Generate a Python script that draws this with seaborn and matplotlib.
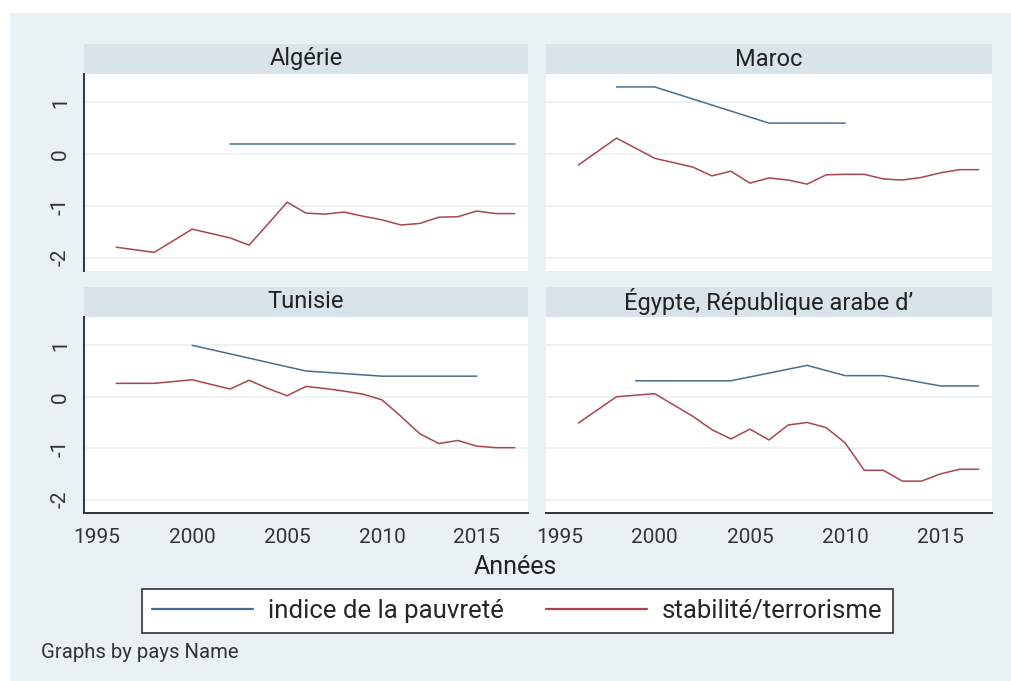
import numpy as np
import pandas as pd
import matplotlib
matplotlib.use("Agg")
import matplotlib.pyplot as plt
from matplotlib.patches import Rectangle
import seaborn as sns

sns.set_style("white")
plt.rcParams['font.family'] = ['Roboto', 'DejaVu Sans']
plt.rcParams['axes.unicode_minus'] = False

nan = np.nan
years = list(range(1996, 2018))
countries = ['Algérie', 'Maroc', 'Tunisie', 'Égypte, République arabe d’']
series_names = ['indice de la pauvreté', 'stabilité/terrorisme']

# indice de la pauvreté (1996..2017)
pauv_algerie = [nan, nan, nan, nan, nan, nan, 0.2, nan, nan, nan, nan, nan, nan, nan, nan, 0.2, nan, nan, nan, nan, nan, 0.2]
pauv_maroc = [nan, nan, 1.3, nan, 1.3, nan, nan, nan, nan, nan, 0.6, nan, nan, nan, 0.6, nan, nan, nan, nan, nan, nan, nan]
pauv_tunisie = [nan, nan, nan, nan, 1.0, nan, nan, nan, nan, nan, 0.5, nan, nan, nan, 0.4, nan, nan, nan, nan, 0.4, nan, nan]
pauv_egypte = [nan, nan, nan, 0.31, nan, nan, nan, nan, 0.31, nan, nan, nan, 0.61, nan, 0.41, nan, 0.41, nan, nan, 0.21, nan, 0.21]

# stabilité politique / absence de terrorisme (1996..2017)
stab_algerie = [-1.80, nan, -1.90, nan, -1.45, nan, -1.62, -1.76, -1.35, -0.93, -1.14, -1.16, -1.12, -1.20, -1.27, -1.37, -1.34, -1.22, -1.21, -1.10, -1.15, -1.15]
stab_maroc = [-0.21, nan, 0.31, nan, -0.08, nan, -0.25, -0.42, -0.33, -0.56, -0.46, -0.50, -0.58, -0.40, -0.39, -0.39, -0.48, -0.50, -0.45, -0.36, -0.30, -0.30]
stab_tunisie = [0.26, nan, 0.26, nan, 0.33, nan, 0.15, 0.32, 0.16, 0.02, 0.20, 0.16, 0.11, 0.05, -0.06, -0.38, -0.72, -0.91, -0.85, -0.96, -0.99, -0.99]
stab_egypte = [-0.51, nan, 0.00, nan, 0.06, nan, -0.38, -0.64, -0.82, -0.63, -0.84, -0.55, -0.50, -0.60, -0.90, -1.43, -1.43, -1.64, -1.64, -1.50, -1.41, -1.41]

pauv = [pauv_algerie, pauv_maroc, pauv_tunisie, pauv_egypte]
stab = [stab_algerie, stab_maroc, stab_tunisie, stab_egypte]

rows = []
for c, p, s in zip(countries, pauv, stab):
    for y, vp, vs in zip(years, p, s):
        rows.append((c, y, series_names[0], vp))
        rows.append((c, y, series_names[1], vs))
df = pd.DataFrame(rows, columns=['pays', 'annee', 'serie', 'valeur']).dropna()

BG = '#E9F1F4'
STRIP = '#D8E4EA'
palette = {series_names[0]: '#4A6C8F', series_names[1]: '#A8454F'}

W, H = 1011, 681
fig = plt.figure(figsize=(W / 100, H / 100), dpi=100, facecolor='white')
fig.patches.append(Rectangle((10 / W, 0), 1, (H - 13) / H, transform=fig.transFigure,
                             facecolor=BG, edgecolor='none', zorder=-10))

# panel boxes in pixels: left, top, right, bottom
boxes = [(84, 74, 528, 271), (546, 74, 992, 271),
         (84, 317, 528, 513), (546, 317, 992, 513)]

handles = None
for i, (c, (l, t, r, b)) in enumerate(zip(countries, boxes)):
    ax = fig.add_axes([l / W, (H - b) / H, (r - l) / W, (b - t) / H])
    ax.set_facecolor('white')
    sub = df[df['pays'] == c]
    sns.lineplot(data=sub, x='annee', y='valeur', hue='serie', hue_order=series_names,
                 palette=palette, linewidth=1.1, ax=ax, legend=(i == 0))
    if i == 0:
        handles, labels = ax.get_legend_handles_labels()
        ax.legend_.remove()
    ax.set_xlim(1994.3, 2017.7)
    ax.set_ylim(-2.26, 1.55)
    ax.set_yticks([-2, -1, 0, 1])
    ax.set_xticks([1995, 2000, 2005, 2010, 2015])
    ax.set_xlabel('')
    ax.set_ylabel('')
    for yv in [-2, -1, 0, 1]:
        ax.axhline(yv, color=BG, linewidth=1.2, zorder=0)
    for sp in ax.spines.values():
        sp.set_visible(False)
    ax.tick_params(axis='both', which='both', length=0, labelsize=15, colors='#333333')
    if i in (0, 2):
        ax.spines['left'].set_visible(True)
        ax.spines['left'].set_color('#333333')
        ax.spines['left'].set_linewidth(1.4)
        ax.tick_params(axis='y', length=7, width=1.4, pad=3)
        for lab in ax.get_yticklabels():
            lab.set_rotation(90)
            lab.set_va('center')
    else:
        ax.set_yticklabels([])
    if i in (2, 3):
        ax.spines['bottom'].set_visible(True)
        ax.spines['bottom'].set_color('#333333')
        ax.spines['bottom'].set_linewidth(1.4)
        ax.tick_params(axis='x', length=7, width=1.4, pad=4)
    else:
        ax.set_xticklabels([])
    # strip with the country name
    sh = 30 / (b - t)
    ax.add_patch(Rectangle((0, 1), 1, sh, transform=ax.transAxes, facecolor=STRIP,
                           edgecolor='none', clip_on=False))
    ax.text(0.5, 1 + sh / 2, c, transform=ax.transAxes, ha='center', va='center',
            fontsize=17, color='#222222')

fig.text(515 / W, (H - 567) / H, 'Années', ha='center', va='center', fontsize=18, color='#222222')

leg = fig.legend(handles, labels, loc='center', bbox_to_anchor=(517.5 / W, (H - 611) / H),
                 ncol=2, frameon=True, fancybox=False, fontsize=18.5, handlelength=3.9,
                 handletextpad=0.6, columnspacing=1.65, borderpad=0.4, framealpha=1)
leg.get_frame().set_edgecolor('#333333')
leg.get_frame().set_facecolor('white')
leg.get_frame().set_linewidth(1.2)
for line in leg.get_lines():
    line.set_linewidth(1.6)

fig.text(41 / W, (H - 653) / H, 'Graphs by pays Name', ha='left', va='center', fontsize=14.6,
         color='#333333')

plt.savefig('out.png', dpi=100, facecolor=fig.get_facecolor())
